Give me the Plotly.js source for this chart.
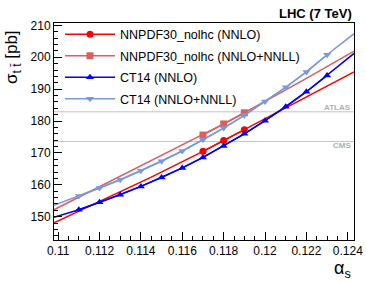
<!DOCTYPE html>
<html>
<head>
<meta charset="utf-8">
<script src="https://cdn.plot.ly/plotly-3.0.1.min.js"></script>
<style>html,body{margin:0;padding:0;background:#fff;}#chart{width:366px;height:283px;}</style>
</head>
<body>
<div id="chart"></div>
<script>
// ---- data ----
const seriesNames = ["NNPDF30_nolhc (NNLO)", "NNPDF30_nolhc (NNLO+NNLL)", "CT14 (NNLO)", "CT14 (NNLO+NNLL)"];

// NNPDF30 computed points
const nnpdfAlpha = [0.117, 0.118, 0.119];
const nnpdfNNLO = [170.5, 173.9, 177.3];
const nnpdfNNLL = [175.6, 179.1, 182.6];

// NNPDF30 fit curves
const nnpdfFitAlpha = [0.1098, 0.112, 0.1145, 0.117, 0.118, 0.119, 0.1206, 0.122, 0.1243];
const nnpdfFitNNLO = [148.1, 154.7, 162.4, 170.5, 173.9, 177.3, 182.7, 187.4, 195.4];
const nnpdfFitNNLLAlpha = [0.1098, 0.1114, 0.114, 0.117, 0.118, 0.119, 0.1208, 0.122, 0.1243];
const nnpdfFitNNLL = [152.2, 157.4, 165.9, 175.6, 179.1, 182.6, 189.0, 193.4, 201.9];

// CT14 computed points
const ctAlpha = [0.111, 0.112, 0.113, 0.114, 0.115, 0.116, 0.117, 0.118, 0.119, 0.120, 0.121, 0.122, 0.123];
const ctNNLO = [152.2, 154.5, 156.9, 159.5, 162.3, 165.3, 168.6, 172.2, 176.0, 180.1, 184.5, 189.2, 194.3];
const ctNNLL = [156.5, 159.0, 161.6, 164.4, 167.4, 170.6, 174.1, 177.8, 181.8, 186.1, 190.6, 195.4, 200.8];
// CT14 fit curve ends at the frame edges
const ctEdgeAlpha = [0.1098, 0.1243];
const ctEdgeNNLO = [149.8, 201.2];
const ctEdgeNNLL = [153.6, 207.4];

// measurements
const measNames = ["ATLAS", "CMS"];
const measValues = [182.9, 173.6];

const xTicks = [0.11, 0.112, 0.114, 0.116, 0.118, 0.12, 0.122, 0.124];
const xTickText = ["0.11", "0.112", "0.114", "0.116", "0.118", "0.12", "0.122", "0.124"];
const yTicks = [150, 160, 170, 180, 190, 200, 210];

// ---- build ----
const colors = ["#ff0000", "#d96060", "#0000ff", "#7a98dc"];
const symbols = ["circle", "square", "triangle-up", "triangle-down"];
const xRange = [0.1098, 0.1243];

function withEdges(ax, ay, ex, ey) {
  return { x: [ex[0]].concat(ax, [ex[1]]), y: [ey[0]].concat(ay, [ey[1]]) };
}
const ctFullNNLO = withEdges(ctAlpha, ctNNLO, ctEdgeAlpha, ctEdgeNNLO);
const ctFullNNLL = withEdges(ctAlpha, ctNNLL, ctEdgeAlpha, ctEdgeNNLL);

const lineSets = [
  { x: nnpdfFitAlpha, y: nnpdfFitNNLO },
  { x: nnpdfFitNNLLAlpha, y: nnpdfFitNNLL },
  ctFullNNLO,
  ctFullNNLL
];
const pointSets = [
  { x: nnpdfAlpha, y: nnpdfNNLO },
  { x: nnpdfAlpha, y: nnpdfNNLL },
  { x: ctAlpha, y: ctNNLO },
  { x: ctAlpha, y: ctNNLL }
];

const traces = [];
// measurement lines
measValues.forEach(v => {
  traces.push({ x: xRange, y: [v, v], mode: "lines", line: { color: "#c4c4c4", width: 1 },
    showlegend: false, hoverinfo: "skip" });
});
lineSets.forEach((s, i) => {
  traces.push({ x: s.x, y: s.y, mode: "lines", line: { color: colors[i], width: 1.5 },
    showlegend: false, hoverinfo: "skip" });
});
pointSets.forEach((s, i) => {
  traces.push({ x: s.x, y: s.y, mode: "lines+markers", name: seriesNames[i], legendgroup: "g" + i,
    line: { color: colors[i], width: 1.5 },
    marker: { symbol: symbols[i], size: 7, color: colors[i] } });
});

const font = "Liberation Sans, Arial, sans-serif";
const annotations = [
  { text: "<b>LHC (7 TeV)</b>", xref: "paper", yref: "paper", x: 1.0, y: 1.045, xanchor: "right", yanchor: "middle",
    showarrow: false, font: { size: 13, color: "#000", family: font } },
  { text: "σ<sub>t t̄</sub> [pb]", xref: "paper", yref: "paper", x: -0.135, y: 0.975, xanchor: "center", yanchor: "top",
    textangle: -90, showarrow: false, font: { size: 17, color: "#000", family: font } },
  { text: "α<sub>s</sub>", xref: "paper", yref: "paper", x: 0.997, y: -0.134, xanchor: "right", yanchor: "middle",
    showarrow: false, font: { size: 18, color: "#000", family: font } }
];
measNames.forEach((n, i) => {
  annotations.push({ text: "<b>" + n + "</b>", xref: "paper", yref: "y", x: 0.995, y: measValues[i],
    xanchor: "right", yanchor: "middle", yshift: i === 0 ? 4.5 : -4, showarrow: false,
    font: { size: 8, color: "#b0b0b0", family: font } });
});

const layout = {
  width: 366, height: 283,
  margin: { l: 54, r: 12, t: 23, b: 43 },
  paper_bgcolor: "#fff", plot_bgcolor: "#fff",
  font: { family: font, size: 12, color: "#000" },
  showlegend: true,
  legend: { x: 0.02, y: 1.015, xanchor: "left", yanchor: "top", bgcolor: "rgba(0,0,0,0)", itemwidth: 50,
    font: { size: 12.5, family: font }, tracegroupgap: 2.2, traceorder: "grouped" },
  xaxis: { range: xRange, tickvals: xTicks, ticktext: xTickText, ticks: "inside", ticklen: 8, tickwidth: 1,
    tickcolor: "#000", showline: true, linecolor: "#000", linewidth: 1, mirror: true, showgrid: false, zeroline: false,
    minor: { dtick: 0.0005, tick0: 0.11, ticks: "inside", ticklen: 4, tickcolor: "#000", showgrid: false },
    tickfont: { size: 12, family: font } },
  yaxis: { range: [142.7, 210.75], tickvals: yTicks, ticks: "inside", ticklen: 8, tickwidth: 1,
    tickcolor: "#000", showline: true, linecolor: "#000", linewidth: 1, mirror: true, showgrid: false, zeroline: false,
    minor: { dtick: 2, tick0: 140, ticks: "inside", ticklen: 4, tickcolor: "#000", showgrid: false },
    tickfont: { size: 12, family: font } },
  annotations: annotations
};

Plotly.newPlot("chart", traces, layout, { staticPlot: true });
</script>
</body>
</html>
